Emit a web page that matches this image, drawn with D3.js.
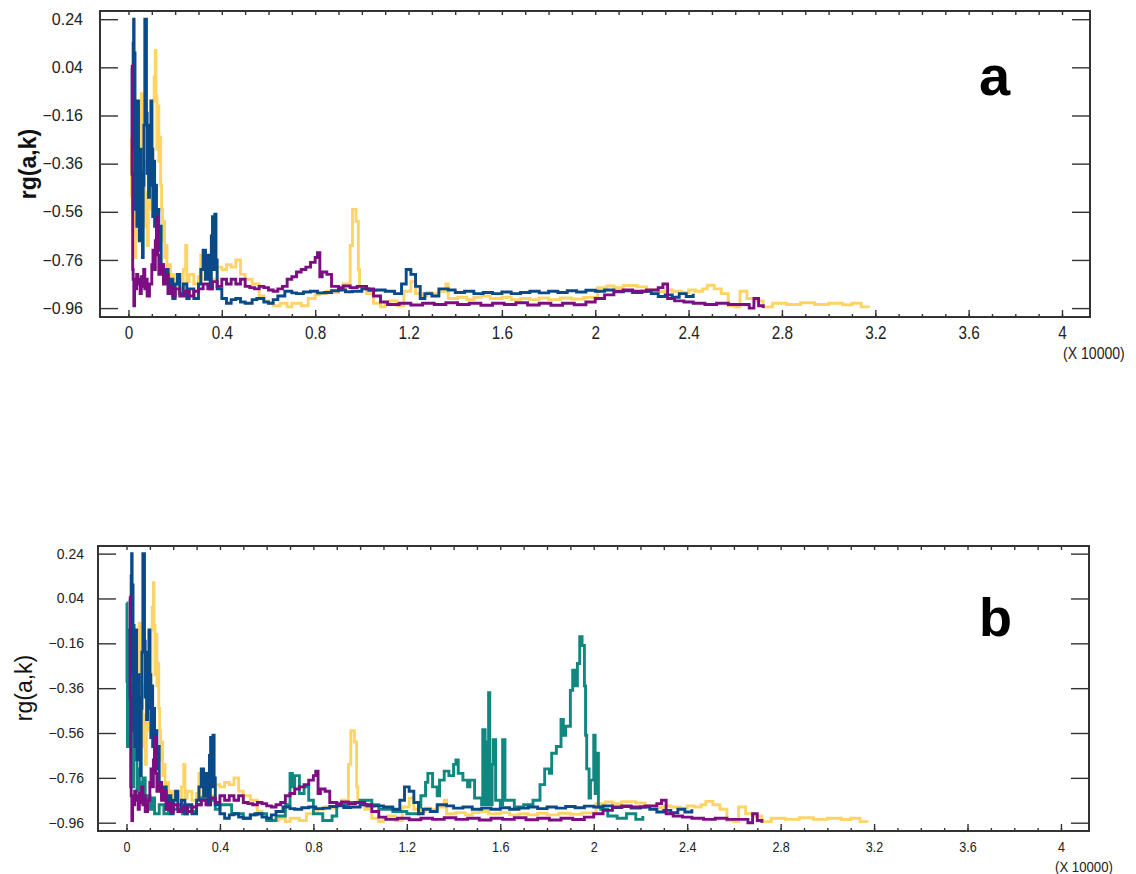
<!DOCTYPE html>
<html>
<head>
<meta charset="utf-8">
<script src="https://cdn.jsdelivr.net/npm/d3@7"></script>
<style>
  body { margin: 0; background: #fff; }
  svg { display: block; font-family: Arial, "Liberation Sans", sans-serif; }
</style>
</head>
<body>
<div id="chart"></div>
<script>
// x values are in units of 10000, y values are rg(a,k)
const yellowSeries = [[0.011,-0.50],[0.013,-0.26],[0.016,-0.55],[0.019,-0.32],[0.022,-0.72],[0.025,-0.45],[0.028,-0.75],[0.031,-0.40],[0.035,-0.60],[0.040,-0.28],[0.045,-0.48],[0.050,-0.20],[0.055,-0.07],[0.058,-0.40],[0.062,-0.55],[0.066,-0.35],[0.070,-0.62],[0.075,-0.48],[0.080,-0.70],[0.085,-0.55],[0.090,-0.45],[0.095,-0.25],[0.100,-0.40],[0.105,-0.10],[0.110,0.00],[0.115,0.11],[0.118,-0.08],[0.122,-0.30],[0.126,-0.12],[0.130,-0.35],[0.134,-0.25],[0.138,-0.45],[0.142,-0.55],[0.146,-0.68],[0.150,-0.60],[0.155,-0.75],[0.160,-0.70],[0.165,-0.85],[0.170,-0.78],[0.180,-0.88],[0.190,-0.82],[0.200,-0.90],[0.210,-0.84],[0.220,-0.88],[0.235,-0.80],[0.245,-0.70],[0.250,-0.85],[0.260,-0.82],[0.280,-0.86],[0.300,-0.83],[0.310,-0.74],[0.315,-0.84],[0.330,-0.80],[0.350,-0.84],[0.380,-0.79],[0.400,-0.80],[0.420,-0.78],[0.440,-0.79],[0.460,-0.76],[0.480,-0.82],[0.50,-0.84],[0.53,-0.86],[0.56,-0.91],[0.58,-0.93],[0.60,-0.94],[0.62,-0.95],[0.65,-0.94],[0.68,-0.955],[0.70,-0.94],[0.74,-0.95],[0.77,-0.92],[0.80,-0.905],[0.82,-0.90],[0.85,-0.89],[0.88,-0.895],[0.90,-0.88],[0.92,-0.86],[0.95,-0.70],[0.96,-0.55],[0.975,-0.60],[0.985,-0.80],[0.99,-0.87],[1.02,-0.90],[1.05,-0.94],[1.08,-0.955],[1.10,-0.94],[1.12,-0.93],[1.15,-0.95],[1.18,-0.89],[1.21,-0.85],[1.23,-0.90],[1.26,-0.91],[1.28,-0.895],[1.30,-0.90],[1.33,-0.89],[1.36,-0.86],[1.37,-0.92],[1.41,-0.915],[1.45,-0.925],[1.48,-0.915],[1.51,-0.91],[1.55,-0.92],[1.60,-0.915],[1.64,-0.925],[1.68,-0.92],[1.72,-0.925],[1.76,-0.918],[1.80,-0.925],[1.85,-0.918],[1.90,-0.922],[1.95,-0.916],[2.00,-0.92],[2.01,-0.875],[2.05,-0.868],[2.08,-0.875],[2.12,-0.866],[2.18,-0.872],[2.22,-0.885],[2.26,-0.892],[2.30,-0.885],[2.33,-0.89],[2.37,-0.895],[2.40,-0.885],[2.43,-0.89],[2.46,-0.88],[2.48,-0.865],[2.51,-0.88],[2.54,-0.90],[2.57,-0.95],[2.60,-0.955],[2.62,-0.89],[2.65,-0.92],[2.69,-0.93],[2.72,-0.955],[2.76,-0.94],[2.82,-0.945],[2.88,-0.938],[2.94,-0.945],[3.00,-0.94],[3.06,-0.946],[3.10,-0.94],[3.14,-0.955],[3.17,-0.96]];

const blueSeries = [[0.014,-0.41],[0.016,0.03],[0.018,-0.20],[0.020,0.14],[0.022,0.24],[0.024,-0.05],[0.026,0.10],[0.028,-0.30],[0.030,-0.55],[0.033,-0.20],[0.036,-0.62],[0.040,-0.10],[0.043,-0.45],[0.046,-0.68],[0.050,-0.30],[0.053,-0.60],[0.056,-0.40],[0.060,-0.75],[0.063,-0.45],[0.066,-0.20],[0.070,0.24],[0.074,0.24],[0.077,-0.15],[0.080,-0.40],[0.083,-0.30],[0.086,-0.50],[0.090,-0.20],[0.093,-0.45],[0.096,-0.10],[0.100,-0.30],[0.104,-0.58],[0.108,-0.35],[0.112,-0.62],[0.116,-0.45],[0.120,-0.70],[0.125,-0.55],[0.130,-0.72],[0.135,-0.62],[0.140,-0.78],[0.150,-0.85],[0.160,-0.80],[0.170,-0.90],[0.180,-0.84],[0.190,-0.92],[0.200,-0.86],[0.210,-0.82],[0.220,-0.90],[0.235,-0.86],[0.250,-0.92],[0.260,-0.88],[0.280,-0.92],[0.300,-0.86],[0.310,-0.80],[0.320,-0.72],[0.330,-0.84],[0.340,-0.74],[0.350,-0.88],[0.355,-0.66],[0.360,-0.58],[0.365,-0.80],[0.370,-0.57],[0.375,-0.76],[0.380,-0.88],[0.40,-0.92],[0.42,-0.94],[0.44,-0.925],[0.46,-0.92],[0.48,-0.935],[0.50,-0.94],[0.53,-0.925],[0.55,-0.92],[0.58,-0.935],[0.60,-0.94],[0.62,-0.925],[0.64,-0.91],[0.67,-0.89],[0.70,-0.897],[0.72,-0.90],[0.75,-0.893],[0.78,-0.89],[0.81,-0.897],[0.84,-0.895],[0.87,-0.888],[0.90,-0.885],[0.93,-0.892],[0.96,-0.89],[1.00,-0.88],[1.03,-0.886],[1.06,-0.885],[1.10,-0.89],[1.14,-0.90],[1.17,-0.86],[1.19,-0.80],[1.21,-0.82],[1.23,-0.87],[1.25,-0.92],[1.27,-0.90],[1.30,-0.91],[1.33,-0.88],[1.37,-0.885],[1.40,-0.895],[1.44,-0.89],[1.48,-0.90],[1.52,-0.895],[1.56,-0.90],[1.60,-0.893],[1.64,-0.90],[1.68,-0.895],[1.72,-0.89],[1.76,-0.897],[1.80,-0.89],[1.84,-0.895],[1.88,-0.888],[1.92,-0.893],[1.96,-0.886],[2.00,-0.89],[2.04,-0.885],[2.08,-0.892],[2.12,-0.888],[2.16,-0.895],[2.20,-0.89],[2.24,-0.90],[2.27,-0.912],[2.30,-0.905],[2.33,-0.915],[2.36,-0.90],[2.39,-0.912],[2.42,-0.90]];

const purpleSeries = [[0.014,0.05],[0.016,-0.40],[0.018,-0.80],[0.020,-0.84],[0.023,-0.95],[0.026,-0.86],[0.030,-0.88],[0.035,-0.82],[0.040,-0.86],[0.045,-0.84],[0.050,-0.90],[0.055,-0.83],[0.060,-0.87],[0.065,-0.80],[0.070,-0.88],[0.075,-0.84],[0.080,-0.91],[0.090,-0.86],[0.100,-0.78],[0.105,-0.72],[0.110,-0.80],[0.115,-0.68],[0.120,-0.58],[0.125,-0.74],[0.130,-0.82],[0.140,-0.78],[0.150,-0.86],[0.160,-0.82],[0.170,-0.90],[0.180,-0.87],[0.190,-0.91],[0.200,-0.88],[0.220,-0.91],[0.240,-0.89],[0.260,-0.91],[0.280,-0.89],[0.300,-0.88],[0.320,-0.86],[0.340,-0.88],[0.360,-0.85],[0.380,-0.87],[0.400,-0.84],[0.420,-0.86],[0.440,-0.84],[0.460,-0.86],[0.48,-0.84],[0.50,-0.87],[0.52,-0.875],[0.54,-0.88],[0.56,-0.87],[0.58,-0.875],[0.60,-0.885],[0.62,-0.89],[0.64,-0.88],[0.66,-0.87],[0.68,-0.84],[0.70,-0.83],[0.72,-0.81],[0.74,-0.80],[0.76,-0.79],[0.78,-0.77],[0.80,-0.75],[0.81,-0.73],[0.82,-0.83],[0.83,-0.81],[0.85,-0.82],[0.87,-0.87],[0.90,-0.875],[0.92,-0.868],[0.95,-0.875],[0.98,-0.87],[1.02,-0.88],[1.05,-0.91],[1.08,-0.935],[1.11,-0.945],[1.16,-0.94],[1.21,-0.947],[1.26,-0.94],[1.31,-0.945],[1.36,-0.938],[1.41,-0.945],[1.46,-0.94],[1.51,-0.948],[1.56,-0.94],[1.61,-0.945],[1.66,-0.938],[1.71,-0.947],[1.76,-0.94],[1.81,-0.948],[1.86,-0.94],[1.91,-0.946],[1.96,-0.935],[2.00,-0.92],[2.04,-0.905],[2.08,-0.89],[2.12,-0.885],[2.16,-0.89],[2.22,-0.885],[2.27,-0.875],[2.29,-0.86],[2.31,-0.92],[2.34,-0.93],[2.38,-0.935],[2.42,-0.94],[2.47,-0.945],[2.52,-0.94],[2.57,-0.945],[2.62,-0.945],[2.66,-0.96],[2.68,-0.92],[2.70,-0.95],[2.72,-0.96]];

const tealSeries = [[0.000,0.02],[0.002,-0.33],[0.004,-0.62],[0.007,-0.10],[0.010,-0.55],[0.013,-0.35],[0.016,-0.62],[0.020,-0.50],[0.025,-0.80],[0.030,-0.08],[0.033,-0.55],[0.036,-0.68],[0.040,-0.60],[0.045,-0.82],[0.050,-0.72],[0.055,-0.86],[0.060,-0.78],[0.065,-0.84],[0.070,-0.76],[0.080,-0.88],[0.090,-0.84],[0.100,-0.90],[0.110,-0.85],[0.120,-0.92],[0.140,-0.88],[0.160,-0.92],[0.180,-0.87],[0.200,-0.90],[0.220,-0.88],[0.240,-0.92],[0.260,-0.89],[0.280,-0.91],[0.300,-0.88],[0.320,-0.85],[0.340,-0.80],[0.360,-0.86],[0.380,-0.90],[0.40,-0.88],[0.45,-0.92],[0.50,-0.94],[0.53,-0.925],[0.56,-0.92],[0.60,-0.95],[0.64,-0.93],[0.68,-0.88],[0.70,-0.74],[0.71,-0.80],[0.72,-0.75],[0.74,-0.83],[0.76,-0.80],[0.78,-0.86],[0.80,-0.92],[0.84,-0.95],[0.88,-0.93],[0.90,-0.88],[0.95,-0.87],[1.00,-0.86],[1.05,-0.88],[1.08,-0.90],[1.14,-0.91],[1.20,-0.92],[1.25,-0.89],[1.26,-0.84],[1.28,-0.78],[1.29,-0.74],[1.31,-0.80],[1.33,-0.84],[1.34,-0.77],[1.36,-0.73],[1.38,-0.75],[1.40,-0.70],[1.41,-0.68],[1.42,-0.74],[1.44,-0.77],[1.46,-0.80],[1.47,-0.77],[1.49,-0.85],[1.52,-0.88],[1.525,-0.545],[1.535,-0.88],[1.545,-0.60],[1.55,-0.38],[1.555,-0.88],[1.565,-0.70],[1.57,-0.59],[1.58,-0.86],[1.60,-0.88],[1.61,-0.59],[1.62,-0.86],[1.66,-0.89],[1.70,-0.88],[1.74,-0.86],[1.77,-0.79],[1.79,-0.72],[1.81,-0.74],[1.82,-0.65],[1.84,-0.62],[1.86,-0.50],[1.87,-0.57],[1.88,-0.53],[1.90,-0.37],[1.91,-0.28],[1.92,-0.35],[1.93,-0.25],[1.94,-0.13],[1.95,-0.17],[1.96,-0.35],[1.965,-0.57],[1.97,-0.72],[1.98,-0.85],[1.986,-0.77],[2.00,-0.57],[2.006,-0.83],[2.01,-0.65],[2.02,-0.89],[2.03,-0.90],[2.06,-0.93],[2.10,-0.94],[2.14,-0.92],[2.18,-0.945],[2.21,-0.93]];

const yTickValues = [0.24, 0.04, -0.16, -0.36, -0.56, -0.76, -0.96];
const xTickValues = [0, 0.4, 0.8, 1.2, 1.6, 2, 2.4, 2.8, 3.2, 3.6, 4];
const xMinorValues = d3.range(0, 41).map(i => i / 10);

const colors = { yellow: "#ffd466", blue: "#0b4a88", purple: "#7d0d82", teal: "#10877f" };

const svg = d3.select("#chart").append("svg")
  .attr("width", 1136)
  .attr("height", 874);

const xDomain = [-0.122, 4.12];
const yDomain = [-0.997, 0.274];

// panel settings (pixel box of the frame)
const panels = [
  { left: 100, top: 11, right: 1090, bottom: 317, letter: "a", letterX: 979, letterY: 95, letterSize: 56,
    yFont: 16, yPad: 17, xFont: 18, xPad: 9, xScaleX: 0.85, titleSize: 23, titleWeight: "bold", titleX: 36, titleY: 164,
    unitX: 1063, unitY: 359, unitSize: 16,
    series: [["yellow", yellowSeries], ["blue", blueSeries], ["purple", purpleSeries]] },
  { left: 98, top: 546, right: 1089, bottom: 831, letter: "b", letterX: 979, letterY: 636, letterSize: 54,
    yFont: 14, yPad: 14, xFont: 14, xPad: 11, xScaleX: 0.9, titleSize: 23, titleWeight: "normal", titleX: 32, titleY: 688,
    unitX: 1055, unitY: 872, unitSize: 15,
    series: [["yellow", yellowSeries], ["teal", tealSeries], ["blue", blueSeries], ["purple", purpleSeries]] }
];

panels.forEach(p => {
  const x = d3.scaleLinear().domain(xDomain).range([p.left, p.right]);
  const y = d3.scaleLinear().domain(yDomain).range([p.bottom, p.top]);
  const g = svg.append("g");

  // series
  const line = d3.line()
    .x(d => x(d[0]))
    .y(d => y(d[1]))
    .curve(d3.curveStepAfter);

  p.series.forEach(([name, data]) => {
    g.append("path")
      .datum(data)
      .attr("fill", "none")
      .attr("stroke", colors[name])
      .attr("stroke-width", 2.9)
      .attr("d", line);
  });

  // left axis with inward ticks
  const yAxisG = g.append("g")
    .attr("transform", `translate(${p.left},0)`)
    .call(d3.axisLeft(y).tickValues(yTickValues).tickSize(-18).tickPadding(p.yPad)
      .tickFormat(d3.format(".2f")));
  yAxisG.selectAll("text").attr("font-size", p.yFont).attr("fill", "#222");

  // right axis ticks
  g.append("g")
    .attr("transform", `translate(${p.right},0)`)
    .call(d3.axisRight(y).tickValues(yTickValues).tickSize(-18).tickFormat(""));

  // bottom minor ticks
  g.append("g")
    .attr("transform", `translate(0,${p.bottom})`)
    .call(d3.axisBottom(x).tickValues(xMinorValues).tickSize(-3).tickFormat(""));

  // bottom major ticks + labels
  const xAxisG = g.append("g")
    .attr("transform", `translate(0,${p.bottom})`)
    .call(d3.axisBottom(x).tickValues(xTickValues).tickSize(-7).tickPadding(p.xPad)
      .tickFormat(d => String(+d.toFixed(1))));
  xAxisG.selectAll("text")
    .attr("font-size", p.xFont)
    .attr("fill", "#222")
    .attr("transform", `scale(${p.xScaleX},1)`);

  // top minor ticks
  g.append("g")
    .attr("transform", `translate(0,${p.top})`)
    .call(d3.axisTop(x).tickValues(xMinorValues).tickSize(-4).tickFormat(""));

  g.selectAll(".domain").remove();
  g.selectAll(".tick line").attr("stroke", "#333").attr("stroke-width", 1.4);

  // frame
  g.append("rect")
    .attr("x", p.left).attr("y", p.top)
    .attr("width", p.right - p.left).attr("height", p.bottom - p.top)
    .attr("fill", "none")
    .attr("stroke", "#333")
    .attr("stroke-width", 2);

  // y title
  g.append("text")
    .attr("transform", `translate(${p.titleX},${p.titleY}) rotate(-90)`)
    .attr("text-anchor", "middle")
    .attr("font-size", p.titleSize)
    .attr("font-weight", p.titleWeight)
    .attr("fill", "#111")
    .text("rg(a,k)");

  // multiplier note
  g.append("text")
    .attr("x", 0).attr("y", 0)
    .attr("font-size", p.unitSize)
    .attr("fill", "#222")
    .attr("transform", `translate(${p.unitX},${p.unitY}) scale(0.88,1)`)
    .text("(X 10000)");

  // panel letter
  g.append("text")
    .attr("x", p.letterX).attr("y", p.letterY)
    .attr("font-size", p.letterSize)
    .attr("font-weight", "bold")
    .attr("fill", "#000")
    .text(p.letter);
});
</script>
</body>
</html>
